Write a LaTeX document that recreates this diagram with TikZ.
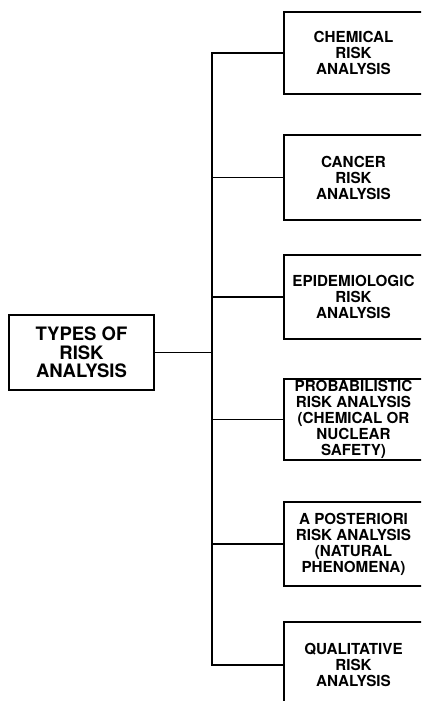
\documentclass[tikz,border=0pt]{standalone}
\usepackage{fontspec}
\setmainfont{TeX Gyre Heros}
\begin{document}
\begin{tikzpicture}[x=1pt,y=-1pt,
  line width=1.1pt,
  subbox/.style={draw, line width=1.1pt, minimum width=139pt, inner sep=0pt, align=center,
    font=\fontsize{15.2}{16}\selectfont\bfseries},
  mainbox/.style={draw, line width=1.3pt, minimum width=145pt, minimum height=75pt, inner sep=0pt, align=center,
    font=\fontsize{18.5}{18.5}\selectfont\bfseries},
  link/.style={line width=1.1pt}]
\useasboundingbox (0,0) rectangle (421,701);
\clip (0,0) rectangle (421,701);
\node[mainbox] (main) at (81.5,352.5) {TYPES OF\\RISK\\ANALYSIS};
\node[subbox, minimum height=82pt] (b1) at (353.5,53) {CHEMICAL\\RISK\\ANALYSIS};
\node[subbox, minimum height=85pt] (b2) at (353.5,177.5) {CANCER\\RISK\\ANALYSIS};
\node[subbox, minimum height=84pt] (b3) at (353.5,297) {EPIDEMIOLOGIC\\RISK\\ANALYSIS};
\node[subbox, minimum height=81pt] (b4) at (353.5,419.5) {PROBABILISTIC\\RISK ANALYSIS\\(CHEMICAL OR\\NUCLEAR\\SAFETY)};
\node[subbox, minimum height=84pt] (b5) at (353.5,544) {A POSTERIORI\\RISK ANALYSIS\\(NATURAL\\PHENOMENA)};
\node[subbox, minimum height=86pt] (b6) at (353.5,665) {QUALITATIVE\\RISK\\ANALYSIS};
\coordinate (sp) at (212,352.5);
\draw[link] (b1.west) -- (b1.west -| sp) |- (b6.west);
\draw[link] (b2.west) -- (b2.west -| sp);
\draw[link] (b3.west) -- (b3.west -| sp);
\draw[link] (b4.west) -- (b4.west -| sp);
\draw[link] (b5.west) -- (b5.west -| sp);
\draw[link] (main.east) -- (main.east -| sp);
\end{tikzpicture}
\end{document}
